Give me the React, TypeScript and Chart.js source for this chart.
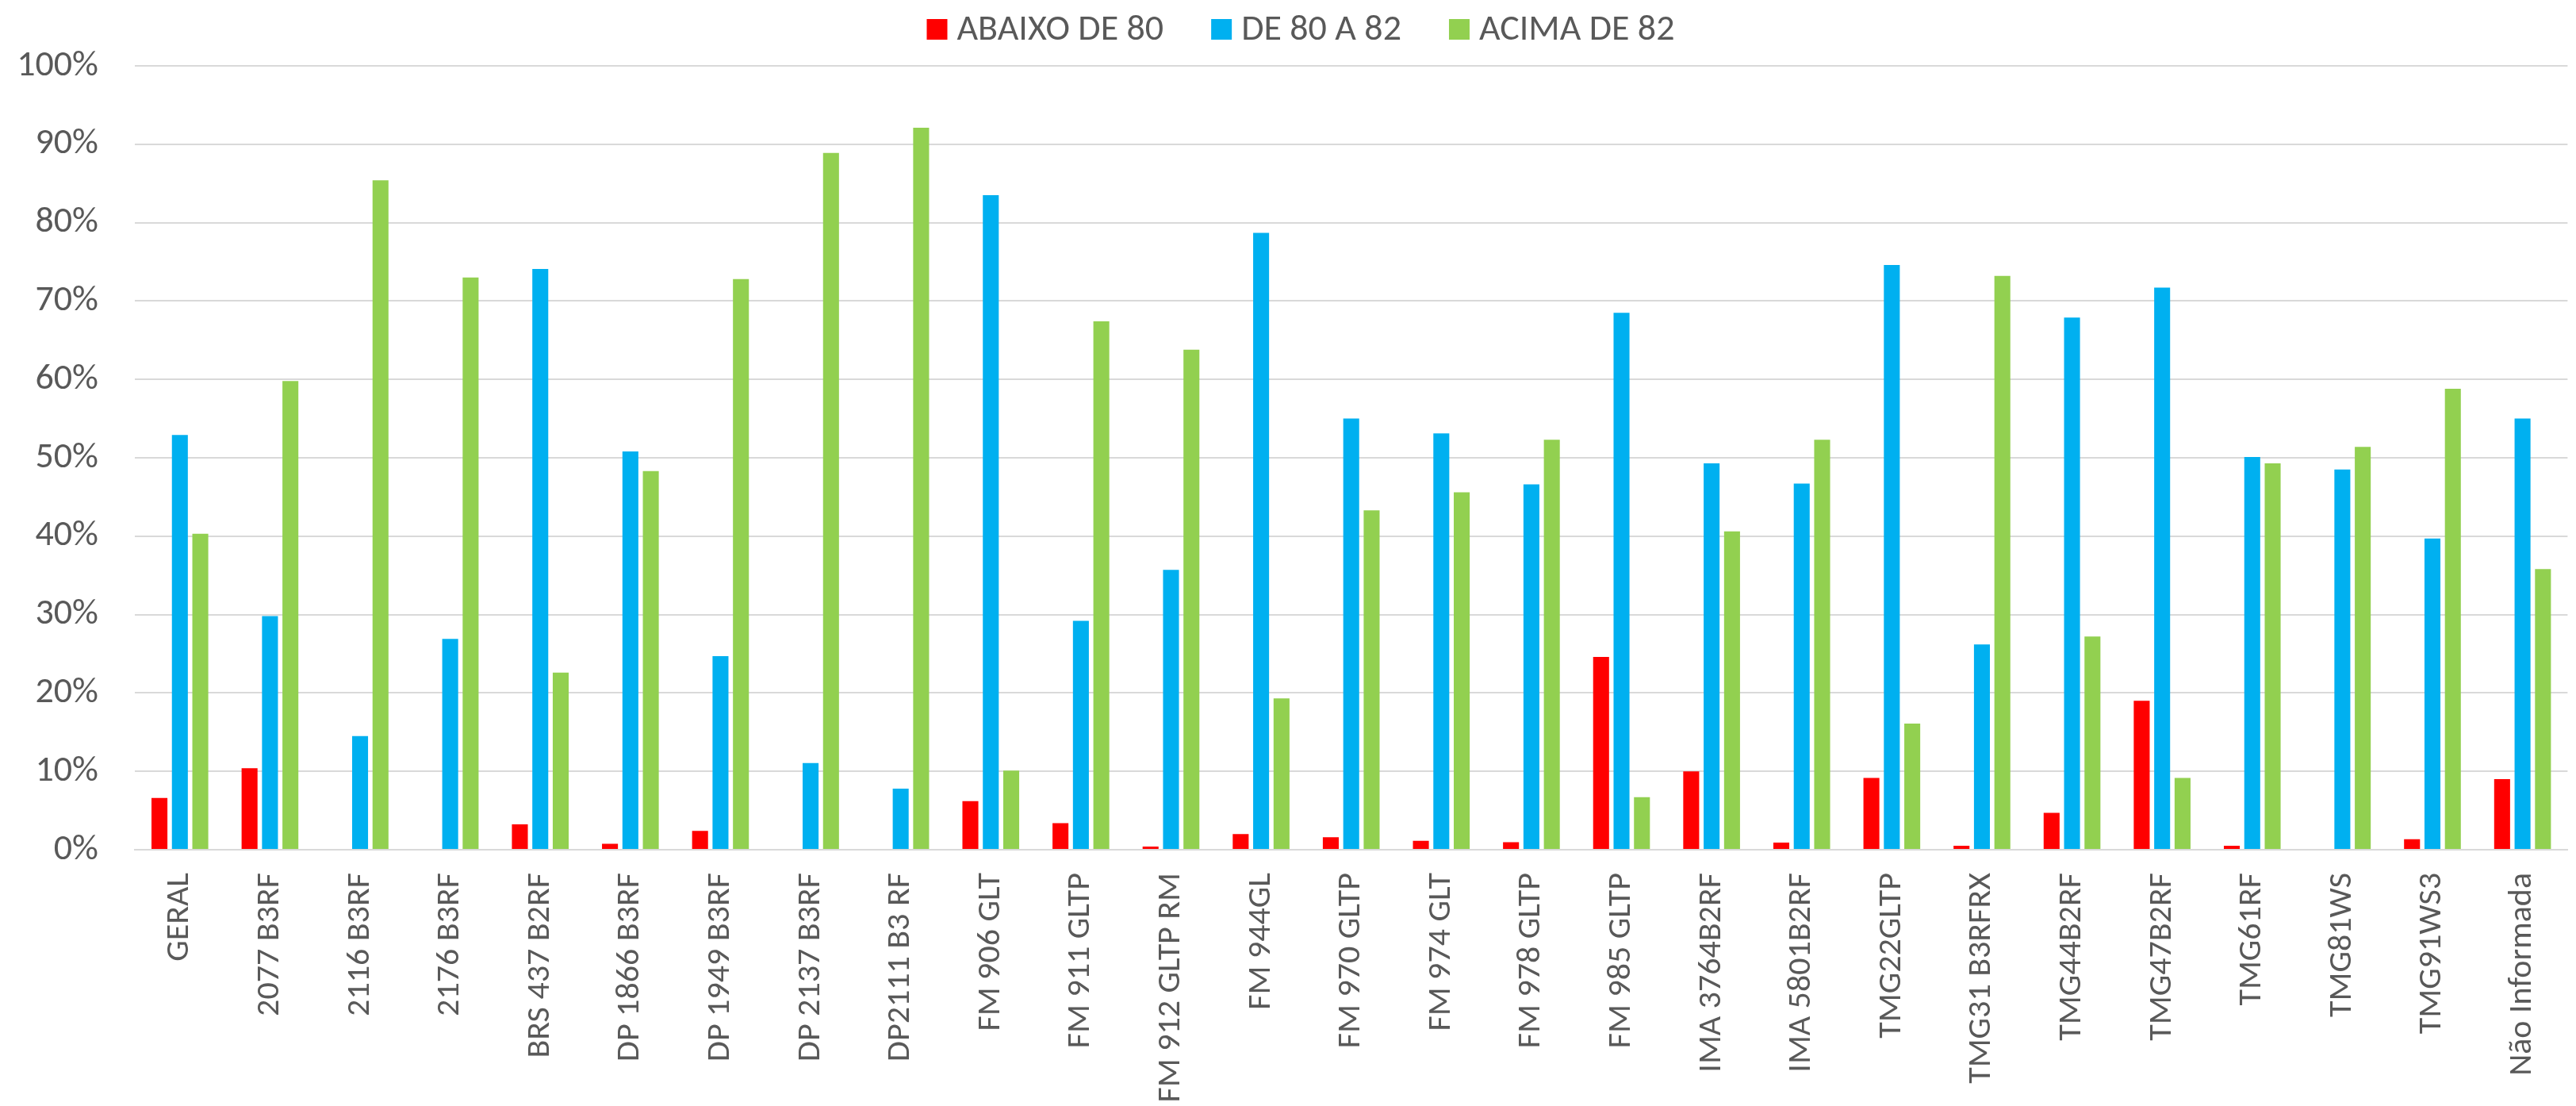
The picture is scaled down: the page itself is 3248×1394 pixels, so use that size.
import React, { useEffect, useRef } from "react";
import { Chart, registerables } from "chart.js";

Chart.register(...registerables);

const categories = [
  "GERAL", "2077 B3RF", "2116 B3RF", "2176 B3RF", "BRS 437 B2RF", "DP 1866 B3RF",
  "DP 1949 B3RF", "DP 2137 B3RF", "DP2111 B3 RF", "FM 906 GLT", "FM 911 GLTP",
  "FM 912 GLTP RM", "FM 944GL", "FM 970 GLTP", "FM 974 GLT", "FM 978 GLTP",
  "FM 985 GLTP", "IMA 3764B2RF", "IMA 5801B2RF", "TMG22GLTP", "TMG31 B3RFRX",
  "TMG44B2RF", "TMG47B2RF", "TMG61RF", "TMG81WS", "TMG91WS3", "Não Informada",
];

const seriesNames = ["ABAIXO DE 80", "DE 80 A 82", "ACIMA DE 82"];

const abaixoDe80 = [6.6, 10.4, 0, 0, 3.25, 0.75, 2.4, 0, 0, 6.2, 3.4, 0.4, 2.0, 1.6, 1.15, 0.95, 24.6, 10.0, 0.9, 9.15, 0.5, 4.7, 19.0, 0.5, 0, 1.35, 9.0];
const de80a82 = [52.9, 29.8, 14.5, 26.9, 74.1, 50.8, 24.7, 11.05, 7.8, 83.5, 29.2, 35.7, 78.7, 55.0, 53.1, 46.6, 68.5, 49.3, 46.7, 74.6, 26.2, 67.9, 71.7, 50.1, 48.5, 39.7, 55.0];
const acimaDe82 = [40.3, 59.8, 85.4, 73.0, 22.6, 48.3, 72.8, 88.9, 92.1, 10.1, 67.4, 63.8, 19.3, 43.3, 45.6, 52.3, 6.7, 40.6, 52.3, 16.1, 73.2, 27.2, 9.15, 49.3, 51.4, 58.8, 35.8];

const yTicks = [0, 10, 20, 30, 40, 50, 60, 70, 80, 90, 100];

const colors = ["#FF0000", "#00B0F0", "#92D050"];
const textColor = "#595959";
const gridColor = "#D9D9D9";
const fontFamily = "Carlito, Calibri, 'Liberation Sans', sans-serif";

const legendFont = `46px ${fontFamily}`;

const topLegendPlugin = {
  id: "topLegend",
  afterDraw(chart: any) {
    const ctx = chart.ctx;
    const items = chart.data.datasets.map((ds: any) => ({ text: ds.label, color: ds.backgroundColor }));
    const box = 26;
    const gap = 12;
    const itemGap = 60;
    ctx.save();
    ctx.font = legendFont;
    const widths = items.map((it: any) => ctx.measureText(it.text).width);
    const total = widths.reduce((a: number, w: number) => a + box + gap + w, 0) + itemGap * (items.length - 1);
    let x = 1640 - total / 2;
    const cy = 37;
    items.forEach((it: any, i: number) => {
      ctx.fillStyle = it.color;
      ctx.fillRect(x, cy - box / 2, box, box);
      ctx.fillStyle = textColor;
      ctx.textBaseline = "middle";
      ctx.textAlign = "left";
      ctx.fillText(it.text, x + box + gap, cy + 1);
      x += box + gap + widths[i] + itemGap;
    });
    ctx.restore();
  },
};

export default function App() {
  const canvasRef = useRef<HTMLCanvasElement | null>(null);

  useEffect(() => {
    if (!canvasRef.current) return;
    const values = [abaixoDe80, de80a82, acimaDe82];
    const chart = new Chart(canvasRef.current, {
      type: "bar",
      data: {
        labels: categories,
        datasets: seriesNames.map((name, i) => ({
          label: name,
          data: values[i],
          backgroundColor: colors[i],
          borderWidth: 0,
          categoryPercentage: 0.68,
          barPercentage: 0.78,
        })),
      },
      plugins: [topLegendPlugin],
      options: {
        animation: false,
        responsive: false,
        devicePixelRatio: 1,
        layout: { padding: { left: 20, right: 0, top: 83, bottom: 0 } },
        plugins: {
          tooltip: { enabled: false },
          legend: { display: false },
        },
        scales: {
          x: {
            grid: { display: false, drawTicks: false },
            border: { display: true, color: gridColor, width: 2 },
            afterFit: (axis: any) => {
              axis.height = 323;
            },
            ticks: {
              color: textColor,
              font: { family: fontFamily, size: 42 },
              minRotation: 90,
              maxRotation: 90,
              autoSkip: false,
              padding: 29,
            },
          },
          y: {
            min: 0,
            max: 100,
            afterBuildTicks: (axis: any) => {
              axis.ticks = yTicks.map((v) => ({ value: v }));
            },
            afterFit: (axis: any) => {
              axis.width = 150;
            },
            grid: { color: gridColor, lineWidth: 2, drawTicks: false },
            border: { display: false },
            ticks: {
              color: textColor,
              font: { family: fontFamily, size: 46 },
              padding: 46,
              callback: (v: any) => `${v}%`,
            },
          },
        },
      },
    });
    return () => chart.destroy();
  }, []);

  return (
    <div style={{ position: "fixed", left: 0, top: 0, width: "3248px", height: "1394px", overflow: "hidden", background: "#fff" }}>
      <canvas ref={canvasRef} width={3260} height={1394} style={{ display: "block", width: "3260px", height: "1394px" }} />
    </div>
  );
}
